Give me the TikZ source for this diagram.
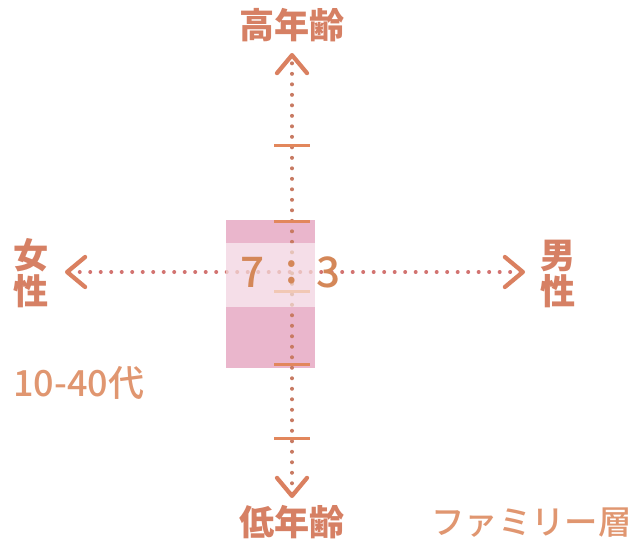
\documentclass[tikz,border=0pt]{standalone}
\usepackage{fontspec}
\setmainfont{Noto Sans CJK JP Medium}
\newfontfamily\lblfont{Noto Sans CJK JP}
\usetikzlibrary{arrows.meta}
\definecolor{lblcol}{RGB}{214,128,100}
\definecolor{numcol}{RGB}{212,135,88}
\definecolor{subcol}{RGB}{224,150,112}
\definecolor{hdot}{RGB}{210,115,112}
\definecolor{vdot}{RGB}{200,122,98}
\definecolor{tipcol}{RGB}{218,128,96}
\definecolor{tickcol}{RGB}{226,135,92}
\definecolor{pinkband}{RGB}{234,182,204}

\begin{document}
\begin{tikzpicture}[
        x=0.02cm, y=-0.02cm, % 1 пиксель
        >={Straight Barb[length=0.36cm, width=0.6cm, line width=0.085cm, round, color=tipcol]},
        axis/.style={line width=0.08cm, line cap=round, dash pattern=on 0pt off 0.21cm, <->},
        tick/.style={tickcol, line width=0.06cm},
        lbl/.style={lblcol, font=\fontsize{20pt}{20.4pt}\lblfont\bfseries, align=center, inner sep=0pt},
        sub/.style={subcol, font=\fontsize{20.5pt}{22pt}\selectfont, inner sep=0pt},
        num/.style={numcol, font=\fontsize{24pt}{26pt}\selectfont, inner sep=0pt},
    ]

    \useasboundingbox (0,0) rectangle (636,542);

    % Розовый прямоугольник
    \fill[pinkband] (226,220) rectangle (315,368);

    \coordinate (top) at (292,53);
    \coordinate (bottom) at (292,498);
    \coordinate (left) at (65,272);
    \coordinate (right) at (525,272);

    \draw[axis, hdot] (left) -- (right);
    \draw[axis, vdot] (bottom) -- (top);

    \foreach \y in {145,221,291,364,438}
        \draw[tick] (274,\y) -- (310,\y);

    % Светлая полоса поверх осей
    \fill[white, fill opacity=0.55] (226,243) rectangle (315,307);

    \node[num] (seven) at (253,272) {7};
    \node[num] (colon) at (292,272) {:};
    \node[num] (three) at (329,272) {3};

    \node[lbl] (old) at (292,25) {高年齢};
    \node[lbl] (young) at (292,522) {低年齢};
    \node[lbl] (female) at (31,273) {女\\性};
    \node[lbl] (male) at (558,274) {男\\性};

    \node[sub, anchor=west] (age) at (13,383) {10-40代};
    \node[sub, anchor=east, font=\fontsize{19pt}{21pt}\selectfont] (family) at (632,523) {ファミリー層};
\end{tikzpicture}
\end{document}
